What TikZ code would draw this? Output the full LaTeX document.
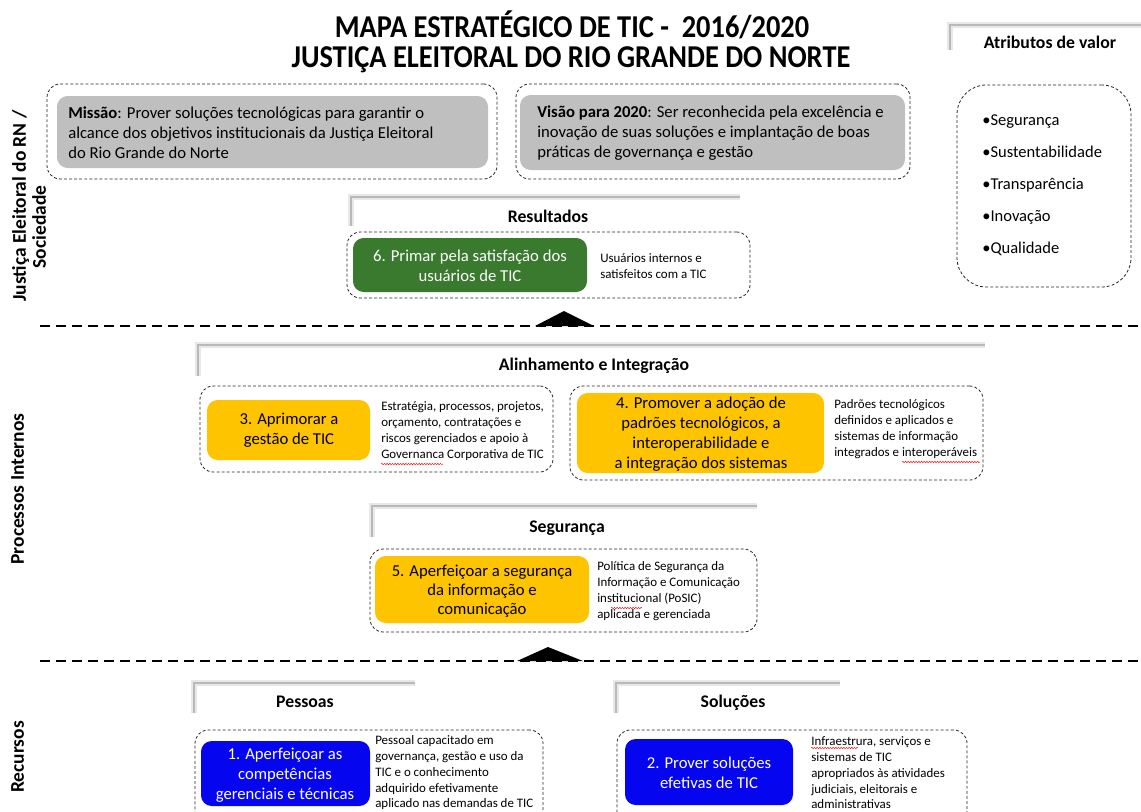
\documentclass[tikz,border=0pt]{standalone}
\usepackage{fontspec}
\setmainfont{Carlito}
\usetikzlibrary{fit,decorations.pathmorphing}
\definecolor{boxgray}{RGB}{191,191,191}
\definecolor{okgreen}{RGB}{58,122,46}
\definecolor{okyellow}{RGB}{255,196,0}
\definecolor{okblue}{RGB}{5,5,240}
\definecolor{brgray}{RGB}{185,185,185}
\definecolor{brhalo}{RGB}{232,232,232}
\tikzset{
  dbox/.style={draw=black!85, dash pattern=on 2.2pt off 1.6pt, line width=0.6pt, rounded corners=10pt, inner sep=0pt},
  fillbox/.style={rounded corners=8pt, inner sep=0pt},
  hdr/.style={font=\bfseries\fontsize{13.3}{16}\selectfont, inner sep=0pt, text height=1.6ex, text depth=0.4ex, yshift=-2pt},
  sidelbl/.style={font=\bfseries\fontsize{14.6}{15.5}\selectfont, rotate=90, align=center, inner sep=0pt, text height=1.6ex, text depth=0.4ex},
  bigtxt/.style={font=\fontsize{12.5}{15}\selectfont, align=center, inner sep=0pt},
  smalltxt/.style={font=\fontsize{9.7}{12}\selectfont, align=left, anchor=west, inner sep=0pt},
  bodytxt/.style={font=\fontsize{12.5}{15}\selectfont, align=left, anchor=west, inner sep=0pt},
  sep/.style={draw=black, line width=1.4pt, dash pattern=on 7.5pt off 4.5pt},
  brhalo/.style={draw=brhalo, line width=4pt},
  br/.style={draw=brgray, line width=2pt},
  spell/.style={draw=red, line width=0.35pt, decorate, decoration={snake, amplitude=0.5pt, segment length=2pt}}
}
\begin{document}
\begin{tikzpicture}[x=0.75pt,y=-0.75pt]
\useasboundingbox (0,0) rectangle (1141,811);

% Title
\node[font=\bfseries\fontsize{21.3}{24}\selectfont, inner sep=0pt] (t1) at (572,25) {\scalebox{1}[1.12]{MAPA ESTRATÉGICO DE TIC -\ \ 2016/2020}};
\node[font=\bfseries\fontsize{21.3}{24}\selectfont, inner sep=0pt] (t2) at (571,60) {\scalebox{1}[1.12]{JUSTIÇA ELEITORAL DO RIO GRANDE DO NORTE}};

% Side labels
\node[sidelbl] (sl1) at (22,206) {Justiça Eleitoral do RN /};
\node[sidelbl] (sl1b) at (42,227) {Sociedade};
\node[sidelbl] (sl2) at (20,489) {Processos Internos};
\node[sidelbl] (sl3) at (20,757) {Recursos};

% Atributos de valor
\draw[brhalo] (950,50) -- (950,25) -- (1141,25);
\draw[br] (950,50) -- (950,25) -- (1141,25);
\node[hdr] (hatr) at (1050,42) {Atributos de valor};
\node[dbox, rounded corners=22pt, fit={(957,85) (1131,287)}] (atrbox) {};
\node[bodytxt, font=\fontsize{12.4}{24}\selectfont] (atr) at (982,185) {•Segurança\\•Sustentabilidade\\•Transparência\\•Inovação\\•Qualidade};

% Missao / Visao
\node[dbox, fit={(47,84) (497,179)}] (mout) {};
\node[fillbox, fill=boxgray, fit={(57,96) (488,168)}] (min) {};
\node[bodytxt] (mtxt) at (68,133) {\textbf{Missão}: Prover soluções tecnológicas para garantir o\\alcance dos objetivos institucionais da Justiça Eleitoral\\do Rio Grande do Norte};
\node[dbox, fit={(516,84) (910,179)}] (vout) {};
\node[fillbox, fill=boxgray, fit={(520,95) (905,170)}] (vin) {};
\node[bodytxt] (vtxt) at (537,133) {\textbf{Visão para 2020}: Ser reconhecida pela excelência e\\inovação de suas soluções e implantação de boas\\práticas de governança e gestão};

% Resultados
\draw[brhalo] (351,226) -- (351,197) -- (740,197);
\draw[br] (351,226) -- (351,197) -- (740,197);
\node[hdr] (hres) at (548,216) {Resultados};
\node[dbox, fit={(347,232) (750,298)}] (o6) {};
\node[fillbox, fill=okgreen, fit={(353,238) (587,292)}] (b6) {};
\node[bigtxt, text=white] (b6t) at (470,266) {6. Primar pela satisfação dos\\usuários de TIC};
\node[smalltxt] (s6) at (600,266) {Usuários internos e\\satisfeitos com a TIC};

% separator 1
\coordinate (sepAl) at (40,326);
\coordinate (sepAr) at (1141,326);
\draw[sep] (sepAl) -- (sepAr);
\fill (535,326) -- (564,311) -- (594,326) -- cycle;

% Alinhamento e Integracao
\draw[brhalo] (198,376) -- (198,345) -- (985,345);
\draw[br] (198,376) -- (198,345) -- (985,345);
\node[hdr] (hal) at (594,364) {Alinhamento e Integração};
\node[dbox, fit={(200,386) (553,472)}] (o3) {};
\node[fillbox, fill=okyellow, fit={(207,400) (370,460)}] (b3) {};
\node[bigtxt] (b3t) at (289,430) {3. Aprimorar a\\gestão de TIC};
\node[smalltxt] (s3) at (381,431) {Estratégia, processos, projetos,\\orçamento, contratações e\\riscos gerenciados e apoio à\\Governanca Corporativa de TIC};
\node[dbox, fit={(570,386) (983,480)}] (o4) {};
\node[fillbox, fill=okyellow, fit={(577,393) (824,473)}] (b4) {};
\node[bigtxt] (b4t) at (701,434) {4. Promover a adoção de\\padrões tecnológicos, a\\interoperabilidade e\\a integração dos sistemas};
\node[smalltxt] (s4) at (834,429) {Padrões tecnológicos\\definidos e aplicados e\\sistemas de informação\\integrados e interoperáveis};

% Seguranca
\draw[brhalo] (372,537) -- (372,506) -- (757,506);
\draw[br] (372,537) -- (372,506) -- (757,506);
\node[hdr] (hseg) at (567,526) {Segurança};
\node[dbox, fit={(370,549) (757,632)}] (o5) {};
\node[fillbox, fill=okyellow, fit={(375,556) (589,623)}] (b5) {};
\node[bigtxt, font=\fontsize{12.5}{14.3}\selectfont] (b5t) at (482,591) {5. Aperfeiçoar a segurança\\da informação e\\comunicação};
\node[smalltxt] (s5) at (597,591) {Política de Segurança da\\Informação e Comunicação\\institucional (PoSIC)\\aplicada e gerenciada};

% separator 2
\coordinate (sepBl) at (40,661);
\coordinate (sepBr) at (1141,661);
\draw[sep] (sepBl) -- (sepBr);
\fill (517,661) -- (548,647) -- (583,661) -- cycle;

% Pessoas / Solucoes
\draw[brhalo] (194,713) -- (194,683) -- (415,683);
\draw[br] (194,713) -- (194,683) -- (415,683);
\node[hdr] (hpes) at (305,701) {Pessoas};
\draw[brhalo] (616,713) -- (616,683) -- (840,683);
\draw[br] (616,713) -- (616,683) -- (840,683);
\node[hdr] (hsol) at (733,701) {Soluções};

\begin{scope}
\clip (0,0) rectangle (1141,811);
\node[dbox, fit={(195,730) (543,825)}] (o1) {};
\node[dbox, fit={(617,730) (967,825)}] (o2) {};
\end{scope}
\node[fillbox, fill=okblue, fit={(201,741) (370,806)}] (b1) {};
\node[bigtxt, text=white] (b1t) at (285,775) {1. Aperfeiçoar as\\competências\\gerenciais e técnicas};
\node[smalltxt, font=\fontsize{9.7}{11.8}\selectfont] (s1) at (375,773) {Pessoal capacitado em\\governança, gestão e uso da\\TIC e o conhecimento\\adquirido efetivamente\\aplicado nas demandas de TIC};
\node[fillbox, fill=okblue, fit={(625,739) (793,805)}] (b2) {};
\node[bigtxt, text=white] (b2t) at (709,773) {2. Prover soluções\\efetivas de TIC};
\node[smalltxt, font=\fontsize{9.7}{11.8}\selectfont] (s2) at (811,773) {Infraestrura, serviços e\\sistemas de TIC\\apropriados às atividades\\judiciais, eleitorais e\\administrativas};

% spell-check marks
\draw[spell] (381,464) -- (443,464);
\draw[spell] (902,462) -- (980,462);
\draw[spell] (611,608) -- (642,608);
\draw[spell] (811,748) -- (858,748);
\end{tikzpicture}
\end{document}
